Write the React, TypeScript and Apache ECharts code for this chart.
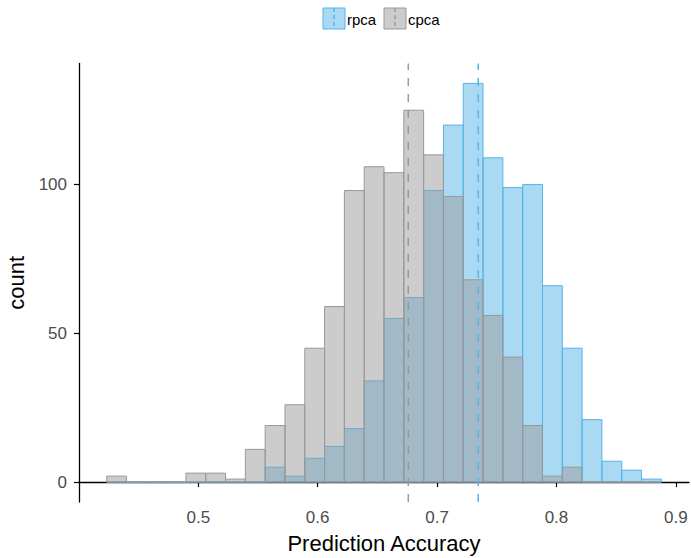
import React, { useEffect, useRef } from "react";
import * as echarts from "echarts";

// Histogram bins (shared by both groups)
const binStart = 0.4233;
const binWidth = 0.01659;
const binCount = 28;

// Counts per bin
const rpcaCounts = [0, 0, 0, 0, 0, 0, 0, 0, 5, 2, 8, 12, 18, 34, 55, 62, 98, 120, 134, 109, 99, 100, 66, 45, 21, 7, 4, 1];
const cpcaCounts = [2, 0, 0, 0, 3, 3, 1, 11, 19, 26, 45, 59, 98, 106, 104, 125, 110, 96, 68, 56, 42, 19, 2, 5, 0, 0, 0, 0];

// Group means (dashed lines)
const groupNames = ["rpca", "cpca"];
const groupMeans = [0.7345, 0.6759];

// Axis ticks
const xTicks = [0.5, 0.6, 0.7, 0.8, 0.9];
const yTicks = [0, 50, 100];

const X_MIN = 0.4001;
const X_MAX = 0.911;
const Y_MIN = -6.7;
const Y_MAX = 140.7;

const BLUE = "#56B4E9";
const BLUE_FILL = "rgba(86,180,233,0.5)";
const GREY = "#999999";
const GREY_FILL = "rgba(153,153,153,0.5)";
const FONT = "'Liberation Sans', Arial, Helvetica, sans-serif";

function binRows(counts: number[]) {
  const rows: number[][] = [];
  for (let k = 0; k < binCount; k++) {
    const x0 = binStart + k * binWidth;
    rows.push([x0, x0 + binWidth, counts[k]]);
  }
  return rows;
}

function histSeries(name: string, counts: number[], fill: string, stroke: string, z: number) {
  return {
    type: "custom",
    name,
    z,
    data: binRows(counts),
    encode: { x: [0, 1], y: 2 },
    renderItem: (_params: any, api: any) => {
      const p0 = api.coord([api.value(0), api.value(2)]);
      const p1 = api.coord([api.value(1), 0]);
      return {
        type: "rect",
        shape: { x: p0[0], y: p0[1], width: p1[0] - p0[0], height: p1[1] - p0[1] },
        style: { fill, stroke, lineWidth: 1 },
      };
    },
  };
}

function meanLine(mean: number, color: string) {
  return {
    type: "line",
    z: 10,
    symbol: "none",
    silent: true,
    data: [
      [mean, Y_MIN],
      [mean, Y_MAX],
    ],
    lineStyle: { color, width: 1.5, type: [8, 8] },
  };
}

function legendKey(x: number, fill: string, stroke: string, label: string) {
  return {
    type: "group",
    x,
    y: 8,
    children: [
      { type: "rect", shape: { x: 0, y: 0, width: 22, height: 21 }, style: { fill, stroke, lineWidth: 1 } },
      { type: "line", shape: { x1: 11, y1: 0, x2: 11, y2: 21 }, style: { stroke, lineWidth: 1.5, lineDash: [4, 3] } },
      {
        type: "text",
        x: 24,
        y: 11,
        style: { text: label, fontSize: 15, fontFamily: FONT, fill: "#000", verticalAlign: "middle", align: "left" },
      },
    ],
  };
}

export default function App() {
  const ref = useRef<HTMLDivElement>(null);
  useEffect(() => {
    if (!ref.current) return;
    const chart = echarts.init(ref.current, undefined, { renderer: "svg" });
    chart.setOption({
      animation: false,
      backgroundColor: "#fff",
      grid: { left: 79, right: 2, top: 63.5, bottom: 56, containLabel: false, outerBoundsMode: "none" },
      xAxis: {
        type: "value",
        min: X_MIN,
        max: X_MAX,
        name: "Prediction Accuracy",
        nameLocation: "middle",
        nameGap: 30,
        nameTextStyle: { fontSize: 22, color: "#000", fontFamily: FONT },
        axisLine: { lineStyle: { color: "#000", width: 1.3 } },
        axisTick: { customValues: xTicks, length: 5, lineStyle: { color: "#000", width: 1.2 } },
        axisLabel: {
          customValues: xTicks,
          fontSize: 17,
          color: "#4D4D4D",
          fontFamily: FONT,
          margin: 7,
          formatter: (v: number) => String(Math.round(v * 10) / 10),
        },
        splitLine: { show: false },
      },
      yAxis: {
        type: "value",
        min: Y_MIN,
        max: Y_MAX,
        name: "count",
        nameLocation: "middle",
        nameGap: 45,
        nameRotate: 90,
        nameTextStyle: { fontSize: 22, color: "#000", fontFamily: FONT },
        axisLine: { show: true, lineStyle: { color: "#000", width: 1.3 } },
        axisTick: { show: true, customValues: yTicks, length: 5, lineStyle: { color: "#000", width: 1.2 } },
        axisLabel: { customValues: yTicks, fontSize: 17, color: "#4D4D4D", fontFamily: FONT, margin: 12 },
        splitLine: { show: false },
      },
      series: [
        histSeries(groupNames[0], rpcaCounts, BLUE_FILL, BLUE, 2),
        histSeries(groupNames[1], cpcaCounts, GREY_FILL, GREY, 3),
        meanLine(groupMeans[0], BLUE),
        meanLine(groupMeans[1], GREY),
      ],
      graphic: [legendKey(323, BLUE_FILL, BLUE, groupNames[0]), legendKey(384, GREY_FILL, GREY, groupNames[1])],
    });
    return () => chart.dispose();
  }, []);
  return <div ref={ref} style={{ position: "fixed", left: 0, top: 0, width: 691, height: 558 }} />;
}
